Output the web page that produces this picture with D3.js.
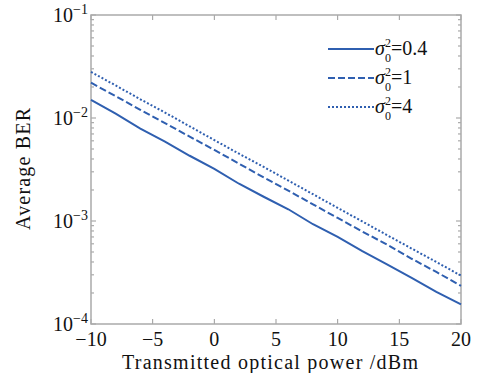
<!DOCTYPE html>
<html>
<head>
<meta charset="utf-8">
<script src="https://cdn.jsdelivr.net/npm/d3@7"></script>
<style>
body { margin: 0; background: #fff; }
text { font-family: "Liberation Serif", "DejaVu Serif", serif; fill: #111; }
</style>
</head>
<body>
<script>
// data
var power = [-10, -8, -6, -4, -2, 0, 2, 4, 6, 8, 10, 12, 14, 16, 18, 20];
var ber04 = [1.5e-2, 1.10e-2, 7.9e-3, 5.9e-3, 4.3e-3, 3.2e-3, 2.3e-3, 1.72e-3, 1.30e-3, 9.3e-4, 7.0e-4, 5.1e-4, 3.8e-4, 2.8e-4, 2.05e-4, 1.55e-4];
var ber1 = [2.2e-2, 1.63e-2, 1.20e-2, 8.9e-3, 6.6e-3, 4.9e-3, 3.6e-3, 2.65e-3, 1.97e-3, 1.45e-3, 1.07e-3, 7.9e-4, 5.9e-4, 4.3e-4, 3.2e-4, 2.35e-4];
var ber4 = [2.8e-2, 2.07e-2, 1.52e-2, 1.13e-2, 8.3e-3, 6.1e-3, 4.5e-3, 3.35e-3, 2.47e-3, 1.82e-3, 1.34e-3, 9.9e-4, 7.3e-4, 5.4e-4, 4.0e-4, 2.95e-4];
var labels = ['0.4', '1', '4'];
var dashes = [null, '7,3', '2,2'];
var xTicks = [-10, -5, 0, 5, 10, 15, 20];
var yTicks = [1e-4, 1e-3, 1e-2, 1e-1];
var yExp = ['−4', '−3', '−2', '−1'];

var W = 486, H = 373;
var L = 91, R = 461, T = 15, B = 324;
var col = '#2f5fb0';

var svg = d3.select('body').append('svg').attr('width', W).attr('height', H);

var x = d3.scaleLinear().domain([-10, 20]).range([L, R]);
var y = d3.scaleLog().domain([1e-4, 1e-1]).range([B, T]);

// minor ticks on log axis
var minor = [];
[1e-4, 1e-3, 1e-2].forEach(function(d){ for (var k = 2; k < 10; k++) minor.push(d * k); });

var g = svg.append('g');
g.selectAll('line.ml').data(minor).enter().append('line')
    .attr('x1', L).attr('x2', L + 3)
    .attr('y1', function(d){ return y(d); }).attr('y2', function(d){ return y(d); })
    .attr('stroke', '#999').attr('stroke-width', 1);
g.selectAll('line.mr').data(minor).enter().append('line')
    .attr('x1', R).attr('x2', R - 3)
    .attr('y1', function(d){ return y(d); }).attr('y2', function(d){ return y(d); })
    .attr('stroke', '#999').attr('stroke-width', 1);
g.selectAll('line.Ml').data(yTicks).enter().append('line')
    .attr('x1', L).attr('x2', L + 5)
    .attr('y1', function(d){ return y(d); }).attr('y2', function(d){ return y(d); })
    .attr('stroke', '#999').attr('stroke-width', 1);
g.selectAll('line.Mr').data(yTicks).enter().append('line')
    .attr('x1', R).attr('x2', R - 5)
    .attr('y1', function(d){ return y(d); }).attr('y2', function(d){ return y(d); })
    .attr('stroke', '#999').attr('stroke-width', 1);
g.selectAll('line.xb').data(xTicks).enter().append('line')
    .attr('x1', function(d){ return x(d); }).attr('x2', function(d){ return x(d); })
    .attr('y1', B).attr('y2', B - 5)
    .attr('stroke', '#999').attr('stroke-width', 1);
g.selectAll('line.xt').data(xTicks).enter().append('line')
    .attr('x1', function(d){ return x(d); }).attr('x2', function(d){ return x(d); })
    .attr('y1', T).attr('y2', T + 5)
    .attr('stroke', '#999').attr('stroke-width', 1);

// frame
svg.append('rect').attr('x', L).attr('y', T).attr('width', R - L).attr('height', B - T)
    .attr('fill', 'none').attr('stroke', '#aaa').attr('stroke-width', 1.5);

// lines
var series = [ber04, ber1, ber4];
var line = d3.line().x(function(d){ return x(d[0]); }).y(function(d){ return y(d[1]); });
series.forEach(function(s, i){
    svg.append('path')
        .datum(power.map(function(p, j){ return [p, s[j]]; }))
        .attr('d', line)
        .attr('fill', 'none')
        .attr('stroke', col)
        .attr('stroke-width', 2)
        .attr('stroke-dasharray', dashes[i]);
});

// tick labels
svg.selectAll('text.xl').data(xTicks).enter().append('text')
    .attr('x', function(d){ return x(d); }).attr('y', 346)
    .attr('text-anchor', 'middle').attr('font-size', 20)
    .text(function(d){ return d < 0 ? '−' + (-d) : d; });

var yl = svg.selectAll('text.yl').data(yTicks).enter().append('text')
    .attr('x', 53).attr('y', function(d){ return y(d) + 7; })
    .attr('font-size', 20);
yl.append('tspan').text('10');
yl.append('tspan').attr('dy', -8).attr('font-size', 14).text(function(d, i){ return yExp[i]; });

// axis titles
svg.append('text').attr('x', 122).attr('y', 369)
    .attr('font-size', 20).attr('textLength', 296).attr('lengthAdjust', 'spacing')
    .text('Transmitted optical power /dBm');
svg.append('text').attr('transform', 'translate(30,230) rotate(-90)')
    .attr('font-size', 20).attr('textLength', 122).attr('lengthAdjust', 'spacing')
    .text('Average BER');

// legend
var leg = svg.selectAll('g.leg').data(labels).enter().append('g')
    .attr('transform', function(d, i){ return 'translate(328,' + (49 + i * 29) + ')'; });
leg.append('line').attr('x1', 0).attr('x2', 46).attr('y1', 0).attr('y2', 0)
    .attr('stroke', col).attr('stroke-width', 2)
    .attr('stroke-dasharray', function(d, i){ return dashes[i]; });
var lt = leg.append('text').attr('x', 47).attr('y', 6).attr('font-size', 20);
lt.append('tspan').attr('font-style', 'italic').text('σ');
lt.append('tspan').attr('dy', -8).attr('font-size', 12).text('2');
lt.append('tspan').attr('dx', -6).attr('dy', 15).attr('font-size', 12).text('0');
lt.append('tspan').attr('dy', -7).text(function(d){ return '=' + d; });
</script>
</body>
</html>
